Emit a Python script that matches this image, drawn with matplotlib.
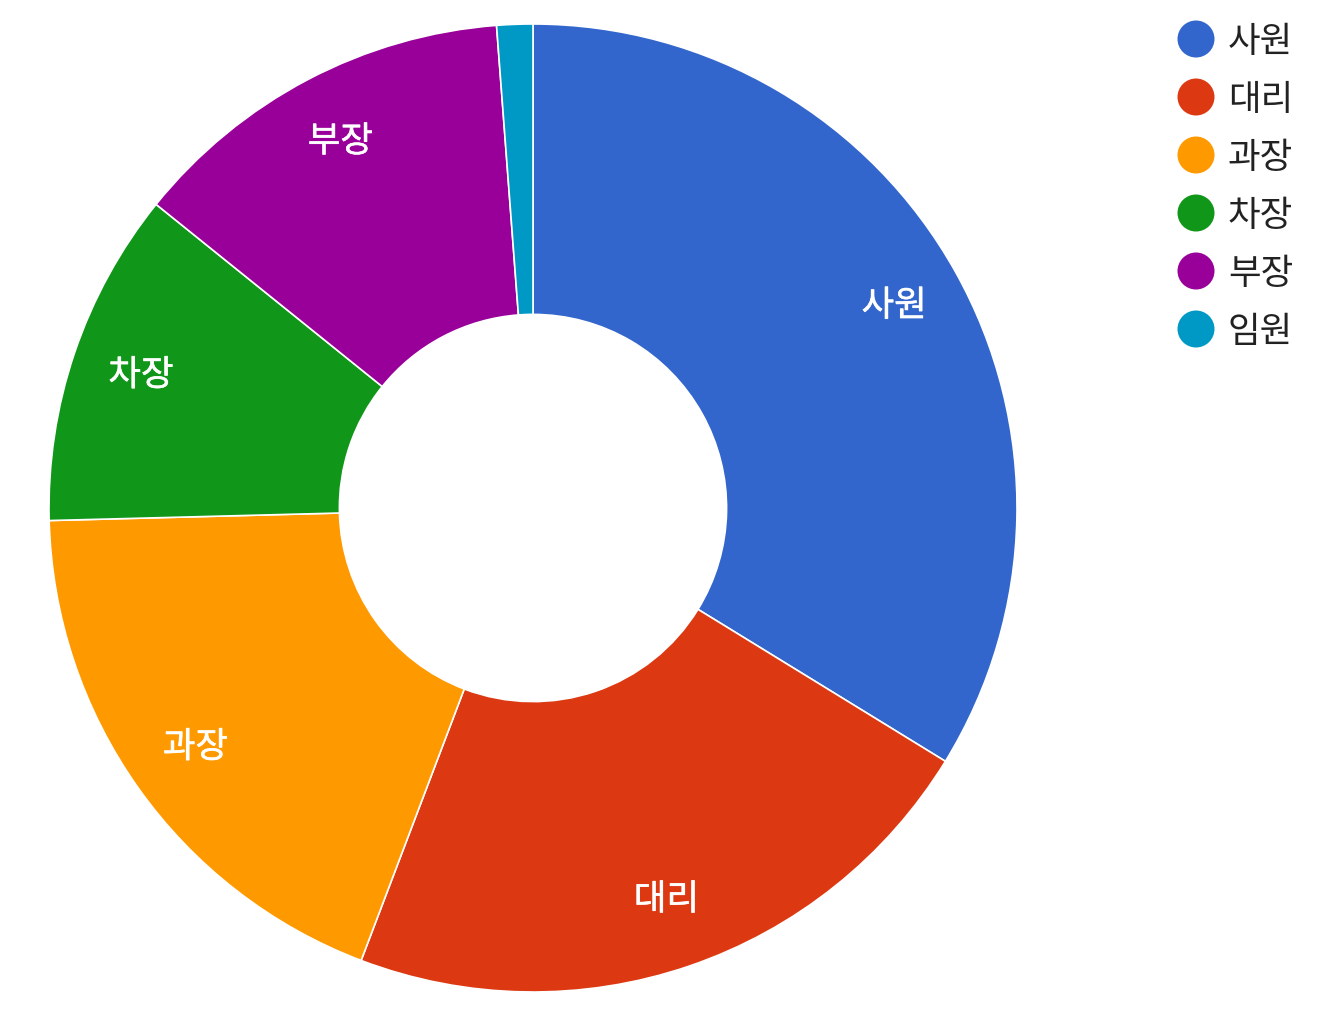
import matplotlib
matplotlib.use("Agg")
import matplotlib.pyplot as plt
from matplotlib.patches import Ellipse
import matplotlib.patheffects as pe

plt.rcParams['font.family'] = ['Noto Sans CJK KR', 'DejaVu Sans']

categories = ['사원', '대리', '과장', '차장', '부장', '임원']
values = [33.75, 22.0, 18.8, 11.2, 13.0, 1.2]
colors = ['#3366CC', '#DC3912', '#FF9900', '#109618', '#990099', '#0099C6']

W, H = 1330, 1020
fig = plt.figure(figsize=(W / 100, H / 100), dpi=100)
cx, cy, R = 533, 509, 484
ax = fig.add_axes([(cx - R) / W, (H - cy - R) / H, 2 * R / W, 2 * R / H])

wedges, texts = ax.pie(values, colors=colors, startangle=90, counterclock=False,
                       radius=1, labels=[c if v > 5 else '' for c, v in zip(categories, values)],
                       labeldistance=0.855,
                       wedgeprops=dict(width=0.6, edgecolor='white', linewidth=1.2),
                       textprops=dict(color='white', fontsize=25.5, fontweight='normal'))
for t in texts:
    t.set_ha('center')
    t.set_va('center')
    t.set_path_effects([pe.withStroke(linewidth=0.4, foreground='white')])
ax.set_xlim(-1, 1)
ax.set_ylim(-1, 1)
ax.set_aspect('equal')
ax.axis('off')

# legend
lx_c, lx_t, ly0, dy = 1196, 1228, 40, 58
for i, (cat, col) in enumerate(zip(categories, colors)):
    y = ly0 + i * dy
    fig.patches.append(Ellipse((lx_c / W, 1 - y / H), 37 / W, 37 / H, transform=fig.transFigure,
                               facecolor=col, edgecolor='none'))
    fig.text(lx_t / W, 1 - (y + 2) / H, cat, fontsize=25.5, color='#222222',
             ha='left', va='center')

fig.savefig('out.png', dpi=100, facecolor='white')
